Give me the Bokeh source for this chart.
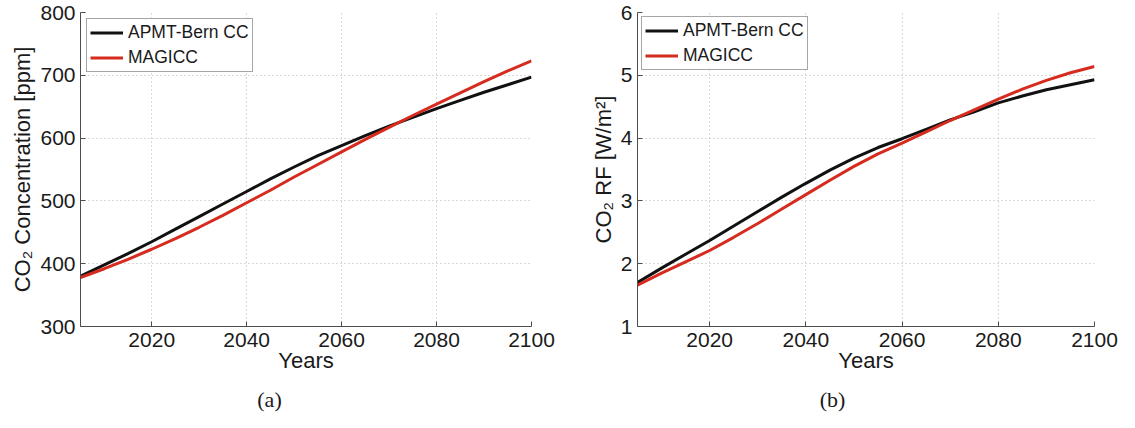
from bokeh.plotting import figure
from bokeh.models import Range1d, FixedTicker, Legend, LegendItem, Label
from bokeh.layouts import row, column
from bokeh.embed import file_html
from bokeh.resources import INLINE

# ---- data ----
years = [2005, 2010, 2015, 2020, 2025, 2030, 2035, 2040, 2045, 2050,
         2055, 2060, 2065, 2070, 2075, 2080, 2085, 2090, 2095, 2100]
conc_apmt = [380, 398, 416, 435, 455, 475, 495, 515, 535, 554,
             572, 588, 604, 619, 633, 647, 660, 673, 685, 697]
conc_magicc = [378, 392, 407, 423, 440, 458, 477, 497, 517, 538,
               558, 578, 598, 617, 636, 654, 672, 690, 707, 723]
rf_apmt = [1.70, 1.93, 2.15, 2.37, 2.60, 2.83, 3.06, 3.28, 3.49, 3.68,
           3.85, 3.99, 4.14, 4.29, 4.42, 4.56, 4.67, 4.77, 4.85, 4.93]
rf_magicc = [1.66, 1.85, 2.03, 2.21, 2.42, 2.64, 2.87, 3.10, 3.33, 3.55,
             3.75, 3.92, 4.10, 4.28, 4.45, 4.62, 4.78, 4.92, 5.04, 5.14]
x_ticks = [2020, 2040, 2060, 2080, 2100]
conc_ticks = [300, 400, 500, 600, 700, 800]
rf_ticks = [1, 2, 3, 4, 5, 6]
series_names = ["APMT-Bern CC", "MAGICC"]
series_colors = ["#111111", "#d62b1f"]
captions = ["(a)", "(b)"]

AX = "#4d4d4d"
TXT = "#1a1a1a"
SANS = "Liberation Sans"
MAIN_H = 384
CAP_H = 412 - MAIN_H


def make_panel(width, borders, yr, yticks, ylabel, ya, yb, leg_margin):
    left, right, top, bottom = borders
    p = figure(width=width, height=MAIN_H, output_backend="svg",
               toolbar_location=None, x_range=Range1d(2005, 2100),
               y_range=Range1d(*yr), min_border_left=left,
               min_border_right=right, min_border_top=top,
               min_border_bottom=bottom)
    p.title.visible = False
    p.outline_line_color = None
    p.background_fill_color = "white"
    p.border_fill_color = "white"

    p.xaxis.ticker = FixedTicker(ticks=x_ticks)
    p.yaxis.ticker = FixedTicker(ticks=yticks)
    p.xgrid.ticker = FixedTicker(ticks=x_ticks)
    p.ygrid.ticker = FixedTicker(ticks=yticks)
    p.grid.grid_line_color = "#b3b3b3"
    p.grid.grid_line_dash = "1 3"
    p.grid.grid_line_width = 1

    for ax in (p.xaxis[0], p.yaxis[0]):
        ax.axis_line_color = AX
        ax.axis_line_width = 1
        ax.major_tick_line_color = AX
        ax.major_tick_in = 5
        ax.major_tick_out = 0
        ax.minor_tick_line_color = None
        ax.major_label_text_font = SANS
        ax.major_label_text_font_size = "21px"
        ax.major_label_text_color = TXT
        ax.axis_label_text_font = SANS
        ax.axis_label_text_font_size = "22px"
        ax.axis_label_text_font_style = "normal"
        ax.axis_label_text_color = TXT
    p.xaxis.axis_label = "Years"
    p.xaxis.major_label_standoff = 6
    p.xaxis.axis_label_standoff = -2
    p.yaxis.axis_label = ylabel
    p.yaxis.major_label_standoff = 5
    p.yaxis.axis_label_standoff = 2

    r1 = p.line(years, ya, line_color=series_colors[0], line_width=3)
    r2 = p.line(years, yb, line_color=series_colors[1], line_width=3)

    leg = Legend(items=[LegendItem(label=series_names[0], renderers=[r1]),
                        LegendItem(label=series_names[1], renderers=[r2])],
                 location="top_left", margin=leg_margin, padding=3,
                 spacing=4, glyph_width=33, glyph_height=19,
                 label_height=19, label_standoff=5,
                 label_text_font=SANS, label_text_font_size="17.5px",
                 label_text_color=TXT,
                 border_line_color=AX, border_line_width=1,
                 background_fill_color="white", background_fill_alpha=1.0)
    p.add_layout(leg)
    return p


# frame bottoms: left panel at page y 337, right at 334
p1 = make_panel(560, (80, 29, 12, 8 + MAIN_H - 337), (300, 800), conc_ticks,
                "CO\u2082 Concentration [ppm]", conc_apmt, conc_magicc, 6)
p2 = make_panel(559, (77, 25, 12, 8 + MAIN_H - 334), (1, 6), rf_ticks,
                "CO\u2082 RF [W/m\u00b2]", rf_apmt, rf_magicc, 4)

# caption strip under both panels
cap = figure(width=1119, height=CAP_H, output_backend="svg",
             toolbar_location=None, x_axis_type=None, y_axis_type=None,
             x_range=Range1d(0, 1), y_range=Range1d(0, 1),
             min_border=0, title=None)
cap.outline_line_color = None
cap.grid.visible = False
cap.background_fill_color = "white"
cap.border_fill_color = "white"
for cx, txt in zip([269, 832], captions):
    cap.add_layout(Label(x=cx, y=13, x_units="screen",
                         y_units="screen", text=txt, text_align="center",
                         text_baseline="middle",
                         text_font="Liberation Serif",
                         text_font_size="22px", text_color=TXT))

layout = column(row(p1, p2), cap)
open("out.html", "w").write(file_html(layout, INLINE))
